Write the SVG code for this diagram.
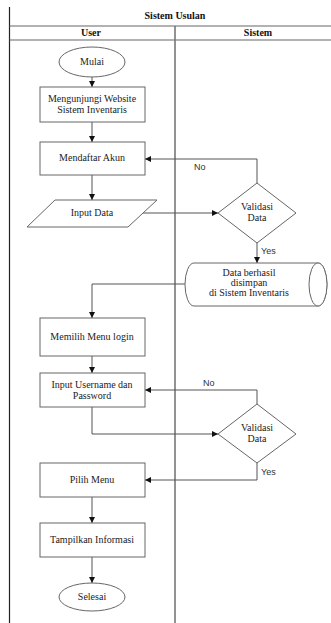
<svg xmlns="http://www.w3.org/2000/svg" width="331" height="623" viewBox="0 0 331 623">
<style>
.frame{stroke:#222;stroke-width:1.2;fill:none}
.div{stroke:#777;stroke-width:1.6;fill:none}
.hl{stroke:#666;stroke-width:1.2;fill:none}
.shape{fill:#fff;stroke:#666;stroke-width:1}
.conn{stroke:#555;stroke-width:1;fill:none}
.t{font-family:"Liberation Serif","Times New Roman",serif;font-size:10px;fill:#222;text-anchor:middle}
.h{font-family:"Liberation Serif","Times New Roman",serif;font-size:10px;font-weight:bold;fill:#111;text-anchor:middle}
.l{font-family:"Liberation Sans",Arial,sans-serif;font-size:9px;fill:#333}
</style>
<defs>
<marker id="ah" viewBox="0 0 10 10" refX="10" refY="5" markerWidth="6" markerHeight="6" orient="auto" markerUnits="userSpaceOnUse">
<path d="M0,0 L10,5 L0,10 Z" fill="#111"/>
</marker>
</defs>
<rect width="331" height="623" fill="#fff"/>
<g id="frame">
<line class="frame" x1="9.5" y1="7" x2="9.5" y2="623"/>
<line class="hl" x1="9.5" y1="26" x2="331" y2="26"/>
<line class="hl" x1="9.5" y1="40" x2="331" y2="40"/>
<line class="div" x1="175" y1="26" x2="175" y2="623"/>
<text class="h" x="175" y="19">Sistem Usulan</text>
<text class="h" x="91" y="36">User</text>
<text class="h" x="258" y="36">Sistem</text>
</g>
<g id="connectors">
<line class="conn" x1="92" y1="77" x2="92" y2="87" marker-end="url(#ah)"/>
<line class="conn" x1="92" y1="122" x2="92" y2="142" marker-end="url(#ah)"/>
<line class="conn" x1="92" y1="175" x2="92" y2="200" marker-end="url(#ah)"/>
<line class="conn" x1="143" y1="213" x2="218" y2="213" marker-end="url(#ah)"/>
<polyline class="conn" points="257,183 257,159 145,159" marker-end="url(#ah)"/>
<line class="conn" x1="257" y1="243" x2="257" y2="263" marker-end="url(#ah)"/>
<polyline class="conn" points="186,284 92,284 92,318" marker-end="url(#ah)"/>
<line class="conn" x1="92" y1="356" x2="92" y2="373" marker-end="url(#ah)"/>
<polyline class="conn" points="92,407 92,434 218,434" marker-end="url(#ah)"/>
<polyline class="conn" points="257,404 257,390 145,390" marker-end="url(#ah)"/>
<polyline class="conn" points="257,463 257,480 145,480" marker-end="url(#ah)"/>
<line class="conn" x1="92" y1="497" x2="92" y2="523" marker-end="url(#ah)"/>
<line class="conn" x1="92" y1="557" x2="92" y2="583" marker-end="url(#ah)"/>
<text class="l" x="194" y="170">No</text>
<text class="l" x="261" y="254">Yes</text>
<text class="l" x="203" y="386">No</text>
<text class="l" x="261" y="475">Yes</text>
</g>
<g id="mulai">
<ellipse class="shape" cx="92" cy="62" rx="33" ry="15"/>
<text class="t" x="92" y="65">Mulai</text>
</g>
<g id="mengunjungi">
<rect class="shape" x="40" y="87" width="105" height="35"/>
<text class="t" x="92" y="102">Mengunjungi Website</text>
<text class="t" x="92" y="113">Sistem Inventaris</text>
</g>
<g id="mendaftar">
<rect class="shape" x="40" y="142" width="105" height="33"/>
<text class="t" x="92" y="161">Mendaftar Akun</text>
</g>
<g id="input-data">
<polygon class="shape" points="55,200 157,200 128,227 27,227"/>
<text class="t" x="92" y="216">Input Data</text>
</g>
<g id="validasi1">
<polygon class="shape" points="257,183 296,213 257,243 218,213"/>
<text class="t" x="257" y="210">Validasi</text>
<text class="t" x="257" y="221">Data</text>
</g>
<g id="database">
<path class="shape" d="M194,263 L318,263 A9,21.5 0 0 1 318,306 L194,306 A9,21.5 0 0 1 194,263 Z"/>
<ellipse class="shape" cx="318" cy="284.5" rx="9" ry="21.5"/>
<text class="t" x="249" y="276">Data berhasil</text>
<text class="t" x="249" y="286">disimpan</text>
<text class="t" x="249" y="296">di Sistem Inventaris</text>
</g>
<g id="memilih">
<rect class="shape" x="40" y="318" width="105" height="38"/>
<text class="t" x="92" y="340">Memilih Menu login</text>
</g>
<g id="input-username">
<rect class="shape" x="40" y="373" width="105" height="34"/>
<text class="t" x="92" y="388">Input Username dan</text>
<text class="t" x="92" y="399">Password</text>
</g>
<g id="validasi2">
<polygon class="shape" points="257,404 296,434 257,463 218,434"/>
<text class="t" x="257" y="431">Validasi</text>
<text class="t" x="257" y="442">Data</text>
</g>
<g id="pilih">
<rect class="shape" x="40" y="463" width="105" height="34"/>
<text class="t" x="92" y="483">Pilih Menu</text>
</g>
<g id="tampilkan">
<rect class="shape" x="40" y="523" width="105" height="34"/>
<text class="t" x="92" y="543">Tampilkan  Informasi</text>
</g>
<g id="selesai">
<ellipse class="shape" cx="92" cy="597" rx="33" ry="14"/>
<text class="t" x="92" y="600">Selesai</text>
</g>
</svg>
